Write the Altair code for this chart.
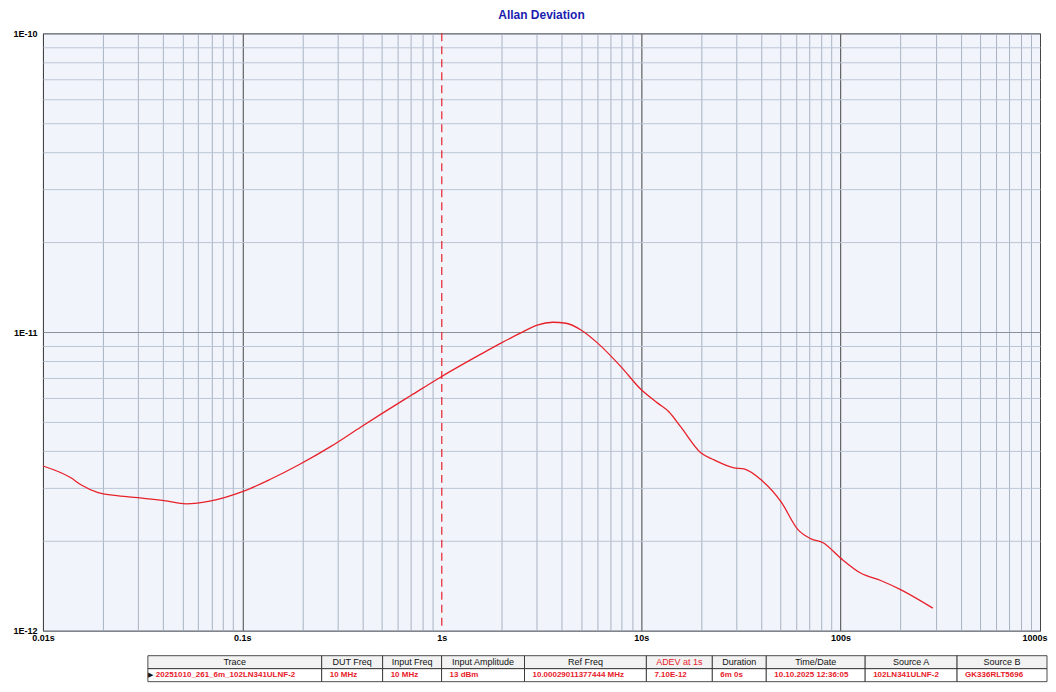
import altair as alt
import pandas as pd

# ---- data ----
tau = [0.01, 0.0138, 0.0155, 0.0189, 0.0228, 0.0299, 0.0414, 0.0521, 0.0697,
       0.1, 0.139, 0.190, 0.278, 0.393, 0.5, 0.7, 1.0, 1.57, 1.98, 2.49, 3.01,
       3.6, 4.2, 4.99, 6.05, 7.91, 9.96, 12.1, 13.8, 15.8, 19.9, 23.2, 29.2,
       32.8, 39.9, 50.3, 61.1, 71.1, 81.7, 100, 126, 160, 201, 290]
adev = [3.56e-12, 3.25e-12, 3.08e-12, 2.90e-12, 2.84e-12, 2.79e-12, 2.72e-12,
        2.66e-12, 2.72e-12, 2.92e-12, 3.22e-12, 3.58e-12, 4.14e-12, 4.81e-12,
        5.33e-12, 6.13e-12, 7.10e-12, 8.43e-12, 9.18e-12, 9.93e-12, 1.055e-11,
        1.078e-11, 1.07e-11, 1.016e-11, 9.18e-12, 7.66e-12, 6.43e-12, 5.78e-12,
        5.40e-12, 4.81e-12, 3.94e-12, 3.73e-12, 3.51e-12, 3.48e-12, 3.20e-12,
        2.70e-12, 2.18e-12, 2.03e-12, 1.97e-12, 1.75e-12, 1.56e-12, 1.47e-12,
        1.37e-12, 1.19e-12]
ref_tau = [1.0]

x_grid = [m * 10.0 ** e for e in range(-2, 3) for m in range(1, 10)] + [1000.0]
y_grid = [m * 10.0 ** e for e in (-12, -11) for m in range(1, 10)] + [1e-10]

table_cols = ["Trace", "DUT Freq", "Input Freq", "Input Amplitude", "Ref Freq",
              "ADEV at 1s", "Duration", "Time/Date", "Source A", "Source B"]
table_vals = ["20251010_261_6m_102LN341ULNF-2", "10 MHz", "10 MHz", "13 dBm",
              "10.00029011377444 MHz", "7.10E-12", "6m 0s", "10.10.2025 12:36:05",
              "102LN341ULNF-2", "GK336RLT5696"]
col_widths = [174, 61, 59, 83, 122, 66, 54, 99, 92, 90]
red_headers = ["ADEV at 1s"]

RED = "#e8202a"
FONT = "Liberation Sans"

df = pd.DataFrame({"tau": tau, "adev": adev})
df_ref = pd.DataFrame({"tau": ref_tau})

cells = []
start = 0
for i, (c, v, w) in enumerate(zip(table_cols, table_vals, col_widths)):
    end = start + w
    cells.append({"idx": i, "row": "head", "x0": start, "x1": end, "xm": (start + end) / 2,
                  "text": c, "color": RED if c in red_headers else "#111111", "fill": "#f2f2f2"})
    cells.append({"idx": i, "row": "data", "x0": start, "x1": end, "xm": (start + end) / 2,
                  "text": v, "color": RED, "fill": "#ffffff"})
    start = end
cells_df = pd.DataFrame(cells)

isdec = "abs(log(datum.value)/LN10 - round(log(datum.value)/LN10)) < 0.001"

xaxis = alt.Axis(
    values=x_grid, grid=True,
    gridColor={"condition": {"test": isdec, "value": "#444444"}, "value": "#a9b2c3"},
    gridOpacity={"condition": {"test": "abs(datum.value - 1) < 1e-9", "value": 0}, "value": 1},
    gridWidth=1, ticks=False, tickSize=0, domain=False,
    labelExpr=f"({isdec}) ? format(datum.value, '~g') + 's' : ''",
    labelOverlap=False, labelFlush=False, labelPadding=3,
    labelAlign={"condition": {"test": "datum.value >= 999", "value": "right"}, "value": "center"},
    labelOffset={"condition": {"test": "datum.value >= 999", "value": 7}, "value": 0},
    labelFont=FONT, labelFontSize=9, labelFontWeight="bold", labelColor="#000000",
    title=None,
)
yaxis = alt.Axis(
    values=y_grid, grid=True,
    gridColor={"condition": {"test": isdec, "value": "#8a909c"}, "value": "#bcc5d5"},
    gridWidth=1, ticks=False, tickSize=0, domain=False,
    labelExpr=f"({isdec}) ? '1E-' + round(-log(datum.value)/LN10) : ''",
    labelOverlap=False, labelFlush=False, labelPadding=6, labelBaseline="middle",
    labelFont=FONT, labelFontSize=9, labelFontWeight="bold", labelColor="#000000",
    minExtent=34, maxExtent=34, title=None,
)

xs = alt.Scale(type="log", domain=[0.01, 1000], nice=False)
ys = alt.Scale(type="log", domain=[1e-12, 1e-10], nice=False)

line = alt.Chart(df).mark_line(color=RED, strokeWidth=1.3, interpolate="monotone").encode(
    x=alt.X("tau:Q", scale=xs, axis=xaxis),
    y=alt.Y("adev:Q", scale=ys, axis=yaxis),
)
rule = alt.Chart(df_ref).mark_rule(color=RED, strokeDash=[8, 5], strokeWidth=1.2).encode(
    x=alt.X("tau:Q", scale=xs, axis=xaxis),
)

plot = alt.layer(rule, line).properties(
    width=998, height=598,
    title=alt.TitleParams("Allan Deviation", font=FONT, fontSize=12, fontWeight="bold",
                          color="#1c1cb0", anchor="middle", offset=7),
    view=alt.ViewBackground(fill="#f1f5fb", stroke="#2a2a2a", strokeWidth=1),
)

# ---- table ----
txs = alt.Scale(domain=[-105, 893], nice=False, zero=False)
tys = alt.Scale(domain=["head", "data"], paddingInner=0, paddingOuter=0)
taxis = alt.Axis(labels=False, ticks=False, domain=False, grid=False, title=None,
                 minExtent=34, maxExtent=34)

tbase = alt.Chart(cells_df)
rects = tbase.mark_rect(stroke="#222222", strokeWidth=0.8).encode(
    x=alt.X("x0:Q", scale=txs, axis=None), x2="x1:Q",
    y=alt.Y("row:N", scale=tys, axis=taxis),
    fill=alt.Color("fill:N", scale=None),
)
head_text = tbase.transform_filter("datum.row == 'head'").mark_text(
    font=FONT, fontSize=9, baseline="middle").encode(
    x=alt.X("xm:Q", scale=txs, axis=None),
    y=alt.Y("row:N", scale=tys, axis=taxis),
    text="text:N", color=alt.Color("color:N", scale=None),
)
data_text = tbase.transform_filter("datum.row == 'data'").mark_text(
    font=FONT, fontSize=8, fontWeight="bold", baseline="middle", align="left", dx=8).encode(
    x=alt.X("x0:Q", scale=txs, axis=None),
    y=alt.Y("row:N", scale=tys, axis=taxis),
    text="text:N", color=alt.Color("color:N", scale=None),
)
arrow = tbase.transform_filter("datum.row == 'data' && datum.idx == 0").mark_text(
    text="\u25b6", align="left", dx=0, fontSize=7, color="#111111", baseline="middle").encode(
    x=alt.X("x0:Q", scale=txs, axis=None),
    y=alt.Y("row:N", scale=tys, axis=taxis),
)

table = alt.layer(rects, head_text, data_text, arrow).properties(
    width=998, height=26,
    view=alt.ViewBackground(stroke="transparent"),
)

chart = alt.vconcat(plot, table, spacing=11,
                    padding={"left": 0, "top": 0, "right": 0, "bottom": 0})

chart.save("out.html", embed_options={"renderer": "svg", "actions": False})
